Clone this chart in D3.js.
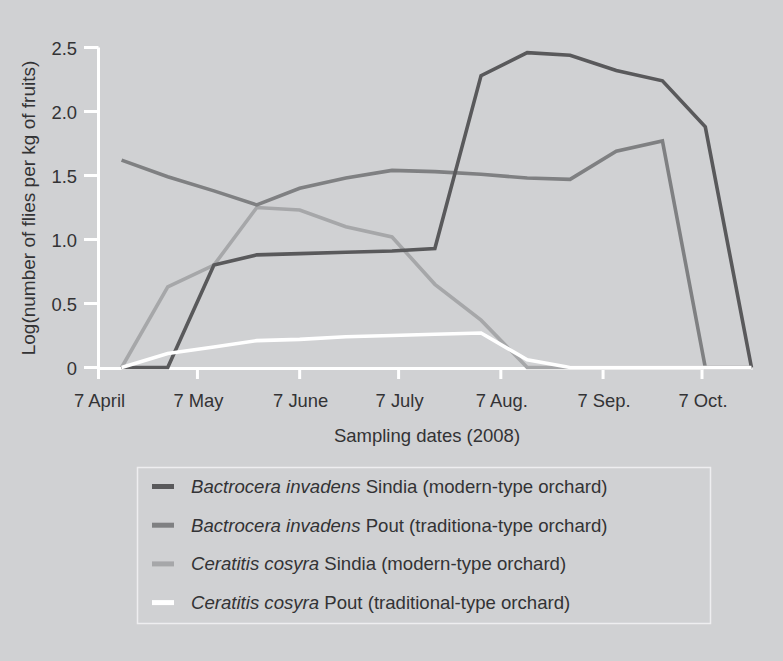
<!DOCTYPE html>
<html>
<head>
<meta charset="utf-8">
<script src="https://cdn.jsdelivr.net/npm/d3@7"></script>
<style>
  html, body { margin: 0; padding: 0; background: #d0d1d3; }
  svg { display: block; }
  text { font-family: "Liberation Sans", Arial, sans-serif; fill: #333335; }
</style>
</head>
<body>
<svg id="chart" width="783" height="661"></svg>
<script>
// ---- data ----
const sampleDates = ["2008-04-14","2008-04-28","2008-05-12","2008-05-25","2008-06-07","2008-06-21","2008-07-05",
  "2008-07-18","2008-08-01","2008-08-15","2008-08-28","2008-09-11","2008-09-25","2008-10-08","2008-10-22"];
const biSindia = [0, 0, 0.80, 0.88, 0.89, 0.90, 0.91, 0.93, 2.28, 2.46, 2.44, 2.32, 2.24, 1.88, 0];
const biPout   = [1.62, 1.49, 1.38, 1.27, 1.40, 1.48, 1.54, 1.53, 1.51, 1.48, 1.47, 1.69, 1.77, 0, 0];
const ccSindia = [0, 0.63, 0.80, 1.25, 1.23, 1.10, 1.02, 0.65, 0.37, 0, 0, 0, 0, 0, 0];
const ccPout   = [0, 0.11, 0.16, 0.21, 0.22, 0.24, 0.25, 0.26, 0.27, 0.06, 0, 0, 0, 0, 0];
const xTickDates  = ["2008-04-07","2008-05-07","2008-06-07","2008-07-07","2008-08-07","2008-09-07","2008-10-07"];
const xTickLabels = ["7 April","7 May","7 June","7 July","7 Aug.","7 Sep.","7 Oct."];
const yTickValues = [0, 0.5, 1.0, 1.5, 2.0, 2.5];
const yTickLabels = ["0", "0.5", "1.0", "1.5", "2.0", "2.5"];
const seriesItalic = ["Bactrocera invadens", "Bactrocera invadens", "Ceratitis cosyra", "Ceratitis cosyra"];
const seriesRest = [" Sindia (modern-type orchard)", " Pout (traditiona-type orchard)",
  " Sindia (modern-type orchard)", " Pout (traditional-type orchard)"];
const seriesColors = ["#59595b", "#7f8082", "#a6a7a9", "#ffffff"];

// ---- chart ----
const parse = d3.timeParse("%Y-%m-%d");
const svg = d3.select("#chart");
svg.append("rect").attr("width", 783).attr("height", 661).attr("fill", "#d0d1d3");

const x = d3.scaleTime().domain([parse("2008-04-07"), parse("2008-10-07")]).range([98.5, 702]);
const y = d3.scaleLinear().domain([0, 2.5]).range([367.5, 47.5]);
const xEnd = x(parse("2008-10-22"));

const axisColor = "#ffffff";
// axes lines
svg.append("line").attr("x1", 98.5).attr("x2", 98.5).attr("y1", y(2.5)).attr("y2", y(0) + 2.5)
  .attr("stroke", axisColor).attr("stroke-width", 3);
svg.append("line").attr("x1", 98.5).attr("x2", xEnd + 1).attr("y1", y(0) + 1).attr("y2", y(0) + 1)
  .attr("stroke", axisColor).attr("stroke-width", 3);

// y ticks
const yAxis = svg.append("g");
yTickValues.forEach((v, i) => {
  yAxis.append("line").attr("x1", 84).attr("x2", 98.5).attr("y1", y(v)).attr("y2", y(v))
    .attr("stroke", axisColor).attr("stroke-width", 3);
  yAxis.append("text").attr("x", 77).attr("y", y(v) + 7.5).attr("text-anchor", "end")
    .attr("font-size", 18.4).text(yTickLabels[i]);
});
// x ticks
const xAxis = svg.append("g");
xTickDates.forEach((d, i) => {
  const xx = x(parse(d));
  xAxis.append("line").attr("x1", xx).attr("x2", xx).attr("y1", y(0)).attr("y2", y(0) + 11.5)
    .attr("stroke", axisColor).attr("stroke-width", 3);
  xAxis.append("text").attr("x", xx + 1).attr("y", 407).attr("text-anchor", "middle")
    .attr("font-size", 18.4).text(xTickLabels[i]);
});

// titles
svg.append("text").attr("x", 427).attr("y", 441.5).attr("text-anchor", "middle")
  .attr("font-size", 18.5).text("Sampling dates (2008)");
svg.append("text").attr("transform", "translate(35,208) rotate(-90)").attr("text-anchor", "middle")
  .attr("font-size", 19).text("Log(number of flies per kg of fruits)");

// lines
const allSeries = [biSindia, biPout, ccSindia, ccPout];
const line = d3.line().x(d => x(d.date)).y(d => y(d.v));
[2, 1, 0, 3].forEach(k => {
  const data = sampleDates.map((s, i) => ({ date: parse(s), v: allSeries[k][i] }));
  svg.append("path").datum(data).attr("d", line).attr("fill", "none")
    .attr("stroke", seriesColors[k]).attr("stroke-width", 3.6).attr("stroke-linejoin", "miter");
});

// legend
const lg = svg.append("g");
lg.append("rect").attr("x", 137.5).attr("y", 467.5).attr("width", 573).attr("height", 156)
  .attr("fill", "none").attr("stroke", "#eeeef0").attr("stroke-width", 1.5);
seriesColors.forEach((c, i) => {
  const yy = 486.5 + i * 38.7;
  lg.append("line").attr("x1", 152).attr("x2", 174).attr("y1", yy).attr("y2", yy)
    .attr("stroke", c).attr("stroke-width", 5);
  const t = lg.append("text").attr("x", 191).attr("y", yy + 6.3).attr("font-size", 18.6);
  t.append("tspan").attr("font-style", "italic").text(seriesItalic[i]);
  t.append("tspan").text(seriesRest[i]);
});
</script>
</body>
</html>
